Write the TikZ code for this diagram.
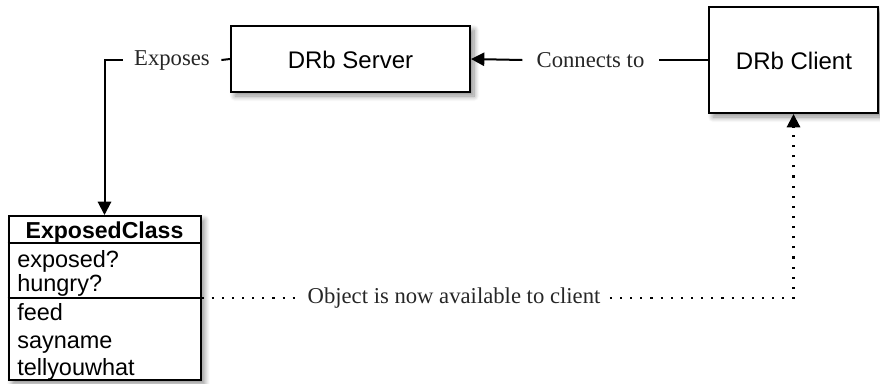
\documentclass[tikz,border=0pt]{standalone}
\usepackage{fontspec}
\setmainfont{Liberation Serif}
\setsansfont{Liberation Sans}
\usetikzlibrary{arrows.meta,shadows.blur}
\begin{document}
\begin{tikzpicture}[x=0.75pt,y=-0.75pt,
  boxshadow/.style={blur shadow={shadow xshift=3pt,shadow yshift=-3pt,shadow blur steps=8,shadow opacity=45,shadow blur radius=4pt}},
  bigbox/.style={draw=black,line width=1.5pt,fill=white,boxshadow,inner sep=0pt},
  boxtext/.style={font=\sffamily\fontsize{18}{21}\selectfont},
  lbl/.style={font=\fontsize{17}{20}\selectfont,inner ysep=2pt,text=black!85},
  conn/.style={line width=1.5pt},
  tip/.style={-{Triangle[length=10pt,width=10pt]}},
  dotline/.style={line width=1.6pt,dash pattern=on 1.6pt off 6pt},
  member/.style={anchor=base west,inner sep=0pt,font=\sffamily\fontsize{17.6}{21}\selectfont}
]
\useasboundingbox (0,0) rectangle (880,383);
% boxes
\node[bigbox,minimum width=179.25pt,minimum height=49.5pt] (server) at (350.5,59) {};
\node[boxtext] (servert) at (350.5,60) {DRb Server};
\node[bigbox,minimum width=126.75pt,minimum height=79.5pt] (client) at (793.5,60) {};
\node[boxtext] (clientt) at (794,61) {DRb Client};
\node[bigbox,minimum width=144pt,minimum height=123pt] (cls) at (104.5,298) {};
\draw[line width=1.3pt] (cls.west |- 0,243) coordinate (s1l) -- (cls.east |- 0,243) coordinate (s1r);
\draw[line width=1.3pt] (cls.west) -- (cls.east);
% class text
\node[member,anchor=base,font=\sffamily\bfseries\fontsize{17.3}{21}\selectfont] (cname) at (104.5,238) {ExposedClass};
\node[member] (m1) at (17,267) {exposed?};
\node[member] (m2) at (17,291) {hungry?};
\node[member] (m3) at (17,320) {feed};
\node[member] (m4) at (17,348) {sayname};
\node[member] (m5) at (17,375) {tellyouwhat};
% labels
\node[lbl,inner xsep=8.5pt] (expl) at (172,60) {Exposes};
\node[lbl,inner xsep=10.5pt] (conl) at (590.5,60) {Connects to};
\node[lbl,inner xsep=7pt] (objl) at (454,298) {Object is now available to client};
% connectors
\draw[conn] (server.west) -- (expl.east);
\draw[conn,tip] (expl.west) -| (cls.north);
\draw[conn] (client.west) -- (conl.east);
\draw[conn,tip] (conl.west) -- (server.east);
\draw[dotline] (cls.east) -- (objl.west);
\draw[dotline,tip] (objl.east) -| (client.south);
\end{tikzpicture}
\end{document}
